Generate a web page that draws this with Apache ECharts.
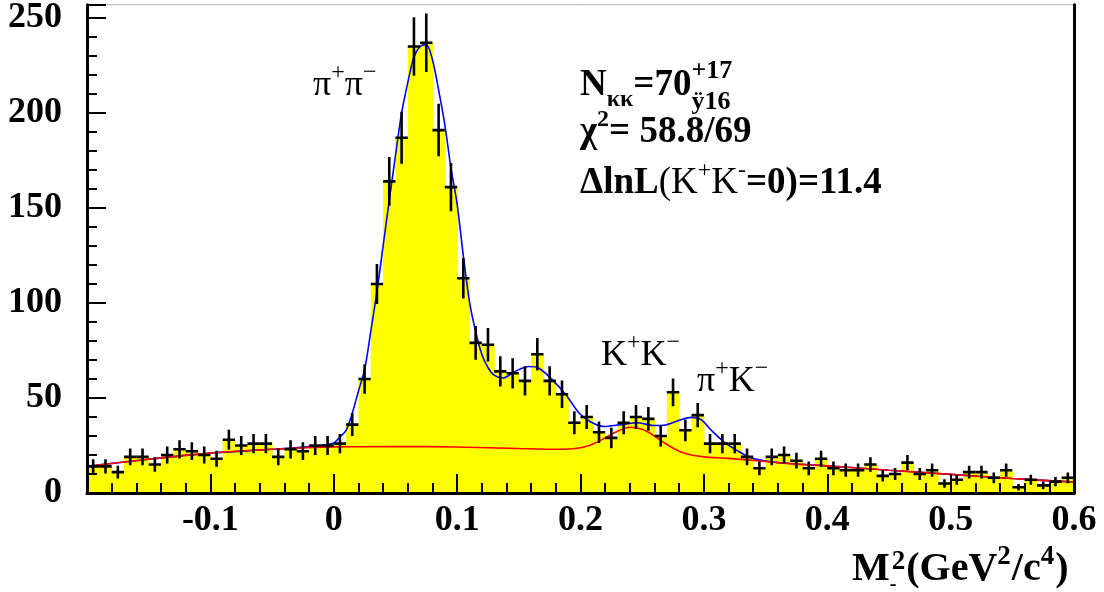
<!DOCTYPE html>
<html><head><meta charset="utf-8">
<script src="https://cdn.jsdelivr.net/npm/echarts@6/dist/echarts.min.js"></script>
<style>html,body{margin:0;padding:0;background:#fff}#c{width:1104px;height:592px}</style>
</head><body><div id="c"></div>
<script>
// ---- data ----
const binLow = -0.2;
const binWidth = 0.01;
const counts = [14,14,11,19,19,15,20,23,22,20,
                18,28,25,26,26,19,23,22,25,25,
                26,36,60,110,164,187,235,237,191,161,
                113,79,78,64,63,59,73,59,52,37,
                40,32,29,37,40,39,30,53,33,41,
                26,26,26,19,13,19,20,17,13,18,
                13,12,12,15,9,10,16,10,12,5,
                7,11,11,8,12,3,7,4,6,8];
const bgX = [-0.2,-0.15,-0.1,-0.05,0,0.05,0.1,0.15,0.18,0.2,0.21,0.22,0.23,0.24,0.25,0.26,0.27,0.28,0.29,0.3,0.32,0.35,0.375,0.4,0.45,0.5,0.55,0.6];
const bgY = [14,17.8,21,23,24.3,24.5,24.2,23.4,23,23.8,25.8,29,32.5,34.6,33.5,30,25.5,22,20,19,18.2,16.6,15.2,14.3,12,9.8,7.6,5.8];
const totX = [-0.2,-0.15,-0.1,-0.05,-0.01,0,0.005,0.01,0.015,0.02,0.025,0.03,0.035,0.04,0.045,0.05,0.055,0.06,0.065,0.07,0.075,0.08,0.085,0.09,0.095,0.1,0.105,0.11,0.115,0.12,0.125,0.13,0.137,0.147,0.158,0.166,0.177,0.188,0.199,0.208,0.219,0.233,0.246,0.259,0.269,0.279,0.29,0.298,0.306,0.317,0.328,0.338,0.349,0.36,0.375,0.4,0.45,0.5,0.55,0.6];
const totY = [14,17.8,21,23,25,26.3,29.5,33,42,53.6,65,85,106,130,154,177.5,200,216,229.5,235,236,228,212,194,171,152,125,100.7,85,73,66,62,60.5,64,66.6,65.8,59.7,51.8,42,37.5,35,36,37,35.5,35.8,38,39.8,38.5,33,26.5,22,18.5,17,16,15.3,14.3,12,9.8,7.6,5.8];
const xTickLabels = ['-0.1','0','0.1','0.2','0.3','0.4','0.5','0.6'];
const yTickLabels = ['0','50','100','150','200','250'];

// ---- build ----
const SERIF = '"Liberation Serif","Times New Roman",serif';
const histData = counts.map((c, i) => [binLow + (i + 0.5) * binWidth, c]);
const bgData = bgX.map((x, i) => [x, bgY[i]]);
const totData = totX.map((x, i) => [x, totY[i]]);

const mctx = document.createElement('canvas').getContext('2d');
function runs(x, base, segs) {
  const out = [];
  let cx = x;
  for (const s of segs) {
    const w = s.w || 'bold';
    const font = w + ' ' + s.s + 'px ' + SERIF;
    mctx.font = font;
    const wid = mctx.measureText(s.t).width;
    const px = (s.x != null ? s.x : cx) + (s.dx || 0);
    out.push({
      type: 'text', x: px, y: base + (s.dy || 0) - 0.34 * s.s, z: 100,
      style: { text: s.t, font: font, fill: '#000', align: 'left', verticalAlign: 'middle' }
    });
    if (!s.stay) cx = px + wid;
  }
  return out;
}

const graphics = [].concat(
  runs(313, 98, [{t:'π',s:36,w:'normal'},{t:'+',s:24,w:'normal',dy:-17},{t:'π',s:36,w:'normal'},{t:'−',s:24,w:'normal',dy:-17}]),
  runs(601, 368, [{t:'K',s:36,w:'normal'},{t:'+',s:24,w:'normal',dy:-17},{t:'K',s:36,w:'normal'},{t:'−',s:24,w:'normal',dy:-17}]),
  runs(697, 394, [{t:'π',s:36,w:'normal'},{t:'+',s:24,w:'normal',dy:-17},{t:'K',s:36,w:'normal'},{t:'−',s:24,w:'normal',dy:-17}]),
  runs(580, 98, [{t:'N',s:37},{t:'κκ',s:24,dy:10},{t:'=70',s:37},{t:'+17',s:26,dy:-18,stay:true},{t:'ÿ16',s:26,dy:13}]),
  runs(580, 145, [{t:'χ',s:37},{t:'2',s:24,dy:-17},{t:'= 58.8/69',s:37}]),
  runs(580, 196, [{t:'ΔlnL',s:37},{t:'(K',s:37,w:'normal'},{t:'+',s:24,w:'normal',dy:-17},{t:'K',s:37,w:'normal'},{t:'-',s:24,w:'normal',dy:-17},{t:'=0)=11.4',s:37}]),
  runs(852, 583, [{t:'M',s:40},{t:'-',s:20,dy:9,stay:true},{t:'2',s:27,dy:-12,dx:2},{t:'(GeV',s:40,dx:1},{t:'2',s:27,dy:-17},{t:'/c',s:40,dx:1},{t:'4',s:27,dy:-17},{t:')',s:40,dx:1}])
);

const chart = echarts.init(document.getElementById('c'), null, { renderer: 'canvas' });
const half = binWidth / 2;
chart.setOption({
  animation: false,
  backgroundColor: '#fff',
  grid: { left: 87, right: 30, top: 1, bottom: 99, show: true, borderColor: '#b0b0b0', borderWidth: 1, backgroundColor: 'transparent' },
  xAxis: {
    type: 'value', min: -0.2, max: 0.6, interval: 0.1, z: 10,
    axisLine: { show: true, onZero: false, lineStyle: { color: '#000', width: 3 } },
    axisTick: { show: true, inside: true, length: 19, lineStyle: { color: '#000', width: 2 } },
    minorTick: { show: true, splitNumber: 5, length: 10, lineStyle: { color: '#000', width: 2 } },
    splitLine: { show: false },
    axisLabel: {
      showMinLabel: false, margin: 10, color: '#000', fontFamily: SERIF, fontWeight: 'bold', fontSize: 36,
      formatter: v => { const k = Math.round((v + 0.1) / 0.1); return (k >= 0 && k < xTickLabels.length) ? xTickLabels[k] : ''; }
    }
  },
  yAxis: [{
    type: 'value', min: 0, max: 257, interval: 50, z: 10,
    axisLine: { show: true, onZero: false, lineStyle: { color: '#000', width: 3 } },
    axisTick: { show: true, inside: true, length: 19, lineStyle: { color: '#000', width: 2 } },
    minorTick: { show: true, splitNumber: 5, length: 10, lineStyle: { color: '#000', width: 2 } },
    splitLine: { show: false },
    axisLabel: {
      showMaxLabel: false, margin: 25, color: '#000', fontFamily: SERIF, fontWeight: 'bold', fontSize: 36,
      formatter: v => { const k = Math.round(v / 50); return (Math.abs(v - k * 50) < 1e-6 && k < yTickLabels.length) ? yTickLabels[k] : ''; }
    }
  }, {
    type: 'value', min: 0, max: 257, position: 'right', z: 10,
    axisLine: { show: true, onZero: false, lineStyle: { color: '#000', width: 3 } },
    axisTick: { show: false }, axisLabel: { show: false }, splitLine: { show: false }
  }],
  series: [
    {
      type: 'custom', name: 'hist', data: histData, z: 1, clip: true,
      renderItem: (params, api) => {
        const x = api.value(0), y = api.value(1);
        const p0 = api.coord([x - half, y]);
        const p1 = api.coord([x + half, 0]);
        return { type: 'rect', shape: { x: p0[0], y: p0[1], width: p1[0] - p0[0] + 0.6, height: p1[1] - p0[1] }, style: { fill: '#ffff00' } };
      }
    },
    { type: 'line', name: 'total', data: totData, smooth: 0.3, showSymbol: false, z: 3, lineStyle: { color: '#0000ff', width: 1.6 } },
    { type: 'line', name: 'bg', data: bgData, smooth: 0.3, showSymbol: false, z: 4, lineStyle: { color: '#ff0000', width: 1.6 } },
    {
      type: 'custom', name: 'err', data: histData, z: 5, clip: true,
      renderItem: (params, api) => {
        const x = api.value(0), y = api.value(1);
        const e = Math.sqrt(y);
        const top = api.coord([x, y + e]);
        const bot = api.coord([x, y - e]);
        const l = api.coord([x - half, y]);
        const r = api.coord([x + half, y]);
        const st = { stroke: '#000', lineWidth: 2.6 };
        return { type: 'group', children: [
          { type: 'line', shape: { x1: top[0], y1: top[1], x2: bot[0], y2: bot[1] }, style: st },
          { type: 'line', shape: { x1: l[0], y1: l[1], x2: r[0], y2: r[1] }, style: st }
        ] };
      }
    }
  ],
  graphic: graphics
});
</script>
</body></html>
